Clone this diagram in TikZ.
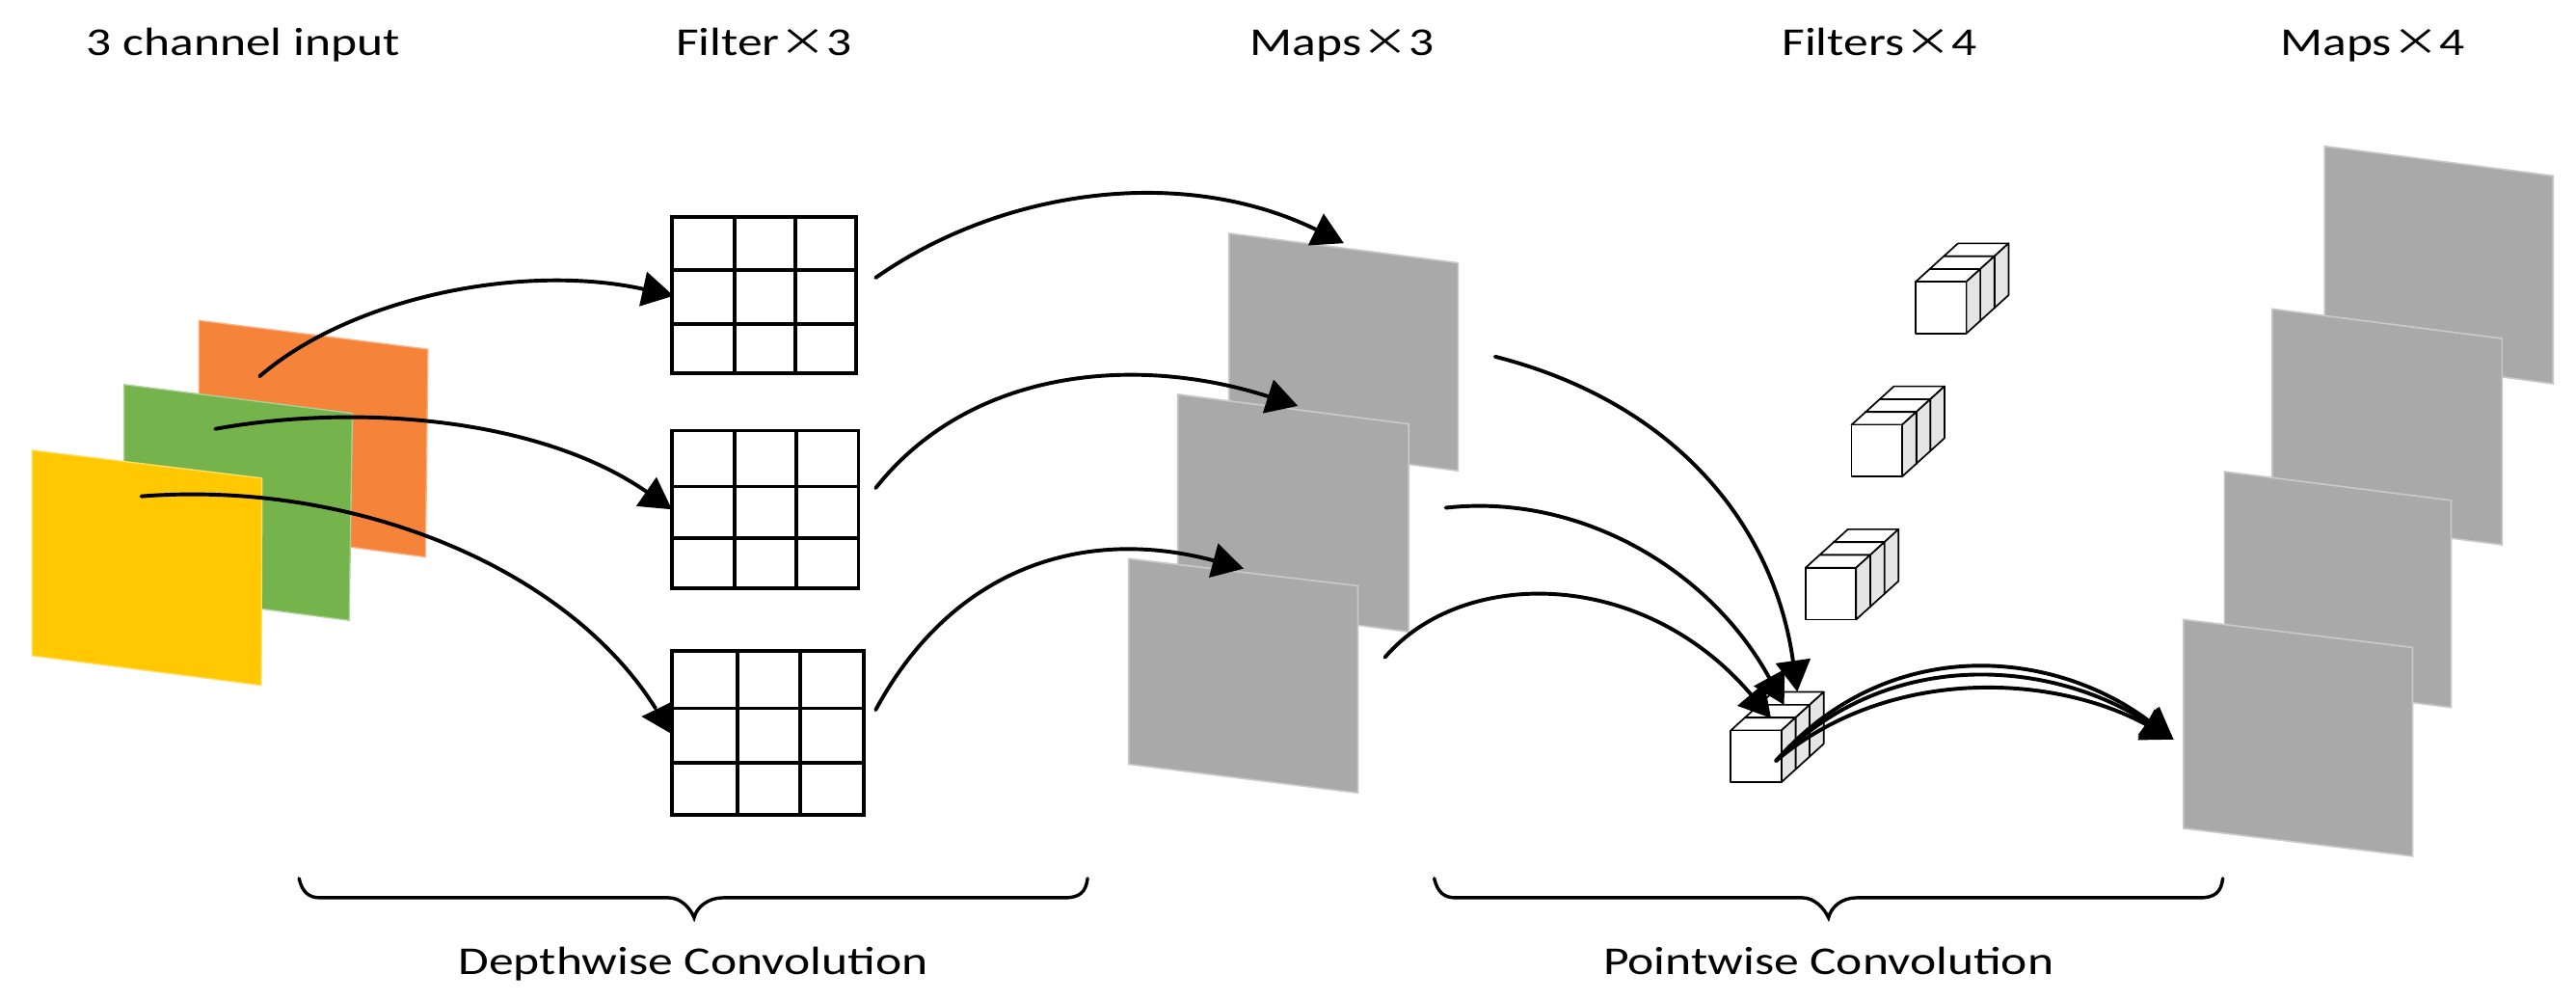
\documentclass[tikz,border=0pt]{standalone}
\usepackage{fontspec}
\setmainfont{Carlito}
\newfontfamily\cjk{Noto Sans CJK SC}[Scale=0.95]
\usetikzlibrary{arrows.meta,calc}
\definecolor{mapgray}{HTML}{A9A9A9}
\definecolor{mapedge}{HTML}{C8C8C8}
\definecolor{plateorange}{HTML}{F5833A}
\definecolor{plategreen}{HTML}{75B34C}
\definecolor{plateyellow}{HTML}{FFC800}
\definecolor{sideface}{HTML}{E5E5E5}
\tikzset{
  label text/.style={font=\fontsize{24}{28}\selectfont, text=black, inner sep=0pt, anchor=base, xscale=1.26},
  gridline/.style={draw=black, line width=2.2pt},
  conn/.style={draw=black, line width=2.3pt, line cap=round, -{Triangle[length=19pt,width=21pt]}},
  brace line/.style={draw=black, line width=2pt, line cap=round},
  cubeline/.style={draw=black, line width=1pt, line join=round},
  sheet/.style={fill=mapgray, draw=mapedge, line width=1pt},
}
% #1 front-face left, #2 front-face bottom
\newcommand{\filtercube}[2]{%
  \foreach \i in {2,1,0}{%
    \pgfmathsetmacro{\xa}{#1+\i*8.6}
    \pgfmathsetmacro{\ya}{#2-\i*7.8}
    \filldraw[cubeline,fill=white] (\xa,\ya-31.5) -- ++(8.6,-7.8) -- ++(30.8,0) -- ++(-8.6,7.8) -- cycle;
    \filldraw[cubeline,fill=sideface] (\xa+30.8,\ya) -- ++(8.6,-7.8) -- ++(0,-31.5) -- ++(-8.6,7.8) -- cycle;
    \filldraw[cubeline,fill=white] (\xa,\ya) rectangle ++(30.8,-31.5);
  }%
}
% #1 left #2 right #3 top #4 bottom, #5 v1 #6 v2, #7 h1 #8 h2
\newcommand{\filtergrid}[8]{%
  \draw[gridline] (#1,#3) rectangle (#2,#4);
  \draw[gridline] (#5,#3) -- (#5,#4) (#6,#3) -- (#6,#4) (#1,#7) -- (#2,#7) (#1,#8) -- (#2,#8);
}
\begin{document}
\begin{tikzpicture}[x=1pt,y=-1pt]
\useasboundingbox (0,0) rectangle (1568,609.1);

% input plates
\filldraw[fill=plateorange,draw=plateorange!60!white,line width=0.8pt] (121,195) -- (260.5,212.5) -- (259,339) -- (121,320.5) -- cycle;
\filldraw[fill=plategreen,draw=plategreen!60!white,line width=0.8pt]  (75.5,234) -- (214.5,251.5) -- (212.5,377.5) -- (75.5,359.5) -- cycle;
\filldraw[fill=plateyellow,draw=plateyellow!60!white,line width=0.8pt] (19.5,274) -- (159.5,291) -- (159,417) -- (19.5,399) -- cycle;

% filter grids
\filtergrid{409}{521}{132}{227}{447}{484}{164.5}{197}
\filtergrid{409}{522.5}{262}{358}{447}{484.5}{296}{327.5}
\filtergrid{409}{526}{396}{496}{449}{487}{431}{464}

% middle maps
\filldraw[sheet] (748,142) -- (887.5,160) -- (887.5,286.5) -- (748,268) -- cycle;
\filldraw[sheet] (717,240) -- (857.5,258) -- (857.5,384.5) -- (717,366) -- cycle;
\filldraw[sheet] (687,340) -- (826.5,356.5) -- (826.5,482.5) -- (687,465) -- cycle;

% right maps
\filldraw[sheet] (1415,89) -- (1554,107) -- (1554,233.5) -- (1415,215) -- cycle;
\filldraw[sheet] (1383,188) -- (1523,206) -- (1523,331.5) -- (1383,313.5) -- cycle;
\filldraw[sheet] (1354,287) -- (1492,304.5) -- (1492,430.5) -- (1354,413) -- cycle;
\filldraw[sheet] (1329,377) -- (1468.5,394) -- (1468.5,521) -- (1329,504) -- cycle;

% filter cubes
\filtercube{1166}{203}
\filtercube{1127}{290}
\filtercube{1099}{377}
\filtercube{1053.5}{476}

% connector end points
\coordinate (a1s) at (158,229); \coordinate (a1e) at (410,180);
\coordinate (a2s) at (131,261); \coordinate (a2e) at (409,310);
\coordinate (a3s) at (86,302);  \coordinate (a3e) at (399,431);
\coordinate (a4s) at (533,169); \coordinate (a4e) at (818,148);
\coordinate (a5s) at (533,297); \coordinate (a5e) at (790,247);
\coordinate (a6s) at (533,432); \coordinate (a6e) at (757,346);
\coordinate (a7s) at (910,217); \coordinate (a7e) at (1094,421);
\coordinate (a8s) at (880,309); \coordinate (a8e) at (1086,429);
\coordinate (a9s) at (843,400); \coordinate (a9e) at (1078,437);
\coordinate (o1s) at (1081,463); \coordinate (o2s) at (1081,463); \coordinate (o3s) at (1081,463);
\coordinate (oe) at (1323,450);
\coordinate (a3tip) at (390.5,436); \coordinate (a3u) at (409,427); \coordinate (a3d) at (409.5,447);

% connectors
\draw[conn] (a1s) .. controls (215,180) and (320,160) .. (a1e);
\draw[conn] (a2s) .. controls (220,245) and (330,255) .. (a2e);
\draw[conn,-] (a3s) .. controls (215,292) and (345,345) .. (a3e);
\fill (a3tip) -- (a3u) -- (a3d) -- cycle;
\draw[conn] (a4s) .. controls (610,115) and (720,100) .. (a4e);
\draw[conn] (a5s) .. controls (590,225) and (690,215) .. (a5e);
\draw[conn] (a6s) .. controls (580,345) and (660,320) .. (a6e);
\draw[conn] (a7s) .. controls (1020,245) and (1080,320) .. (a7e);
\draw[conn] (a8s) .. controls (960,300) and (1040,345) .. (a8e);
\draw[conn] (a9s) .. controls (890,345) and (1000,345) .. (a9e);
\draw[conn] (o1s) .. controls (1150,385) and (1250,395) .. (oe);
\draw[conn] (o2s) .. controls (1150,392) and (1250,402) .. (oe);
\draw[conn] (o3s) .. controls (1150,405) and (1250,410) .. (oe);

% braces
\draw[brace line] (182,534.5) .. controls (184,543) and (188,546.3) .. (195,546.3) -- (407,546.3) .. controls (414,546.3) and (420,552) .. (422.5,558.5) .. controls (424,552) and (431,546.3) .. (440,546.3) -- (648,546.3) .. controls (657,546.3) and (661,543) .. (662,534.5);
\draw[brace line] (873,534.5) .. controls (875,543) and (879,546.3) .. (886,546.3) -- (1097,546.3) .. controls (1104,546.3) and (1110,552) .. (1113,558.5) .. controls (1114.5,552) and (1121,546.3) .. (1130,546.3) -- (1339,546.3) .. controls (1348,546.3) and (1352,543) .. (1353,534.5);

% labels
\node[label text] (t1) at (148,33.5) {3 channel input};
\node[label text] (t2) at (465,33.5) {Filter{\cjk ×}3};
\node[label text] (t3) at (817,33.5) {Maps{\cjk ×}3};
\node[label text] (t4) at (1144,33.5) {Filters{\cjk ×}4};
\node[label text] (t5) at (1444,33.5) {Maps{\cjk ×}4};
\node[label text] (t6) at (422,593) {Depthwise Convolution};
\node[label text] (t7) at (1113,593) {Pointwise Convolution};
\end{tikzpicture}
\end{document}
